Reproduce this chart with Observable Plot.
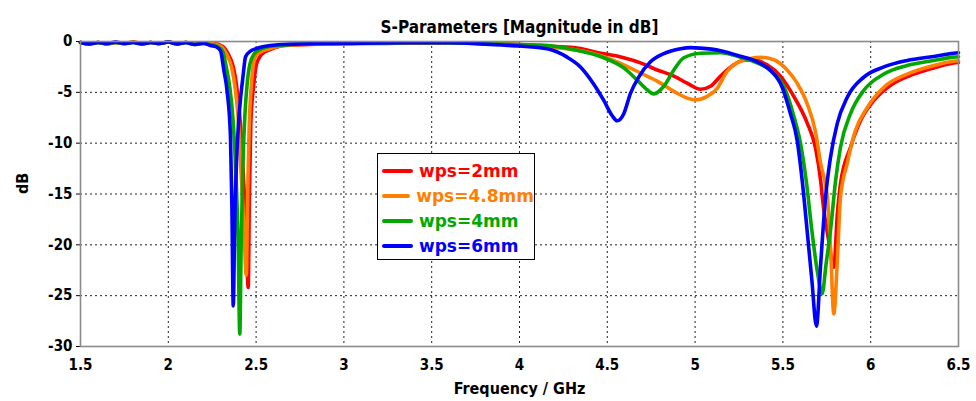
<!DOCTYPE html>
<html>
<head>
<meta charset="utf-8">
<script src="https://cdn.jsdelivr.net/npm/d3@7"></script>
<script src="https://cdn.jsdelivr.net/npm/@observablehq/plot@0.6"></script>
<style>
  html, body { margin: 0; padding: 0; background: #fff; }
  #chart { position: relative; width: 976px; height: 401px; }
  #legend {
    position: absolute; left: 377px; top: 153px; width: 158px; height: 107px;
    background: #fff; border: 1.5px solid #000; box-sizing: border-box;
    font-family: "DejaVu Sans", sans-serif; font-weight: bold; font-size: 17px;
    padding-top: 4px;
  }
  #legend .row { display: flex; align-items: center; height: 25px; }
  #legend .sw { width: 31px; height: 4px; margin-left: 4px; margin-right: 6px; border-radius: 2px; }
</style>
</head>
<body>
<div id="chart"></div>
<script>
// S11 magnitude (dB) versus frequency (GHz) for four values of wps
const seriesNames = ["wps=2mm", "wps=4.8mm", "wps=4mm", "wps=6mm"];
const seriesColors = ["#ff0000", "#ff8000", "#00a800", "#0000ff"];

const xTicks = [1.5, 2, 2.5, 3, 3.5, 4, 4.5, 5, 5.5, 6, 6.5];
const yTicks = [0, -5, -10, -15, -20, -25, -30];

// wps = 2mm
const red_f = [1.5, 1.55, 1.6, 1.65, 1.7, 1.75, 1.8, 1.85, 1.9, 1.95, 2.0, 2.05, 2.1, 2.15, 2.2,
  2.26, 2.31, 2.34, 2.37, 2.39, 2.41, 2.43, 2.445, 2.455, 2.462, 2.47, 2.485, 2.5, 2.515, 2.53, 2.55, 2.58, 2.63, 2.7,
  2.8, 2.9, 3.0, 3.2, 3.4, 3.6, 3.8, 4.0, 4.15, 4.309, 4.45, 4.594, 4.689, 4.784, 4.879, 4.955, 5.031, 5.088, 5.145,
  5.22, 5.27, 5.33, 5.41, 5.486, 5.562, 5.638, 5.686, 5.715, 5.729, 5.76, 5.79, 5.81, 5.828, 5.885, 5.942, 6.018,
  6.113, 6.246, 6.379, 6.473, 6.5];
const red_db = [-0.1, -0.2, -0.1, -0.25, -0.1, -0.2, -0.05, -0.2, -0.1, -0.2, -0.05, -0.2, -0.1, -0.25, -0.2,
  -0.2, -0.5, -1.2, -2.5, -4.5, -8, -14, -20, -24.2, -15, -8, -4.5, -2.4, -1.7, -1.3, -1.0, -0.8, -0.5, -0.35,
  -0.3, -0.25, -0.2, -0.2, -0.15, -0.15, -0.2, -0.3, -0.45, -0.6, -1.1, -1.6, -2.1, -2.8, -3.4, -4.1, -4.7, -4.4, -3.4,
  -2.3, -1.87, -1.8, -2.3, -3.4, -5.4, -8.0, -10.5, -13.7, -16, -19.5, -22.2, -17, -14, -10.4, -7.8, -5.8,
  -4.3, -3.2, -2.5, -2.1, -2.05];

// wps = 4.8mm
const orange_f = [1.5, 1.55, 1.6, 1.65, 1.7, 1.75, 1.8, 1.85, 1.9, 1.95, 2.0, 2.05, 2.1, 2.15, 2.2,
  2.25, 2.3, 2.33, 2.36, 2.38, 2.4, 2.415, 2.43, 2.444, 2.452, 2.46, 2.475, 2.49, 2.51, 2.54, 2.6, 2.66, 2.75,
  2.9, 3.0, 3.2, 3.4, 3.6, 3.8, 4.0, 4.15, 4.309, 4.48, 4.594, 4.689, 4.784, 4.879, 4.955, 5.002, 5.069, 5.126,
  5.18, 5.22, 5.297, 5.372, 5.448, 5.524, 5.581, 5.638, 5.686, 5.715, 5.753, 5.771, 5.79, 5.809, 5.828, 5.866,
  5.913, 5.98, 6.075, 6.208, 6.359, 6.473, 6.5];
const orange_db = [-0.1, -0.2, -0.1, -0.25, -0.1, -0.2, -0.05, -0.2, -0.1, -0.2, -0.05, -0.2, -0.1, -0.25, -0.15,
  -0.2, -0.5, -1.2, -2.5, -4.5, -8, -13, -18, -23.0, -15, -8.8, -3.8, -1.8, -1.2, -0.9, -0.6, -0.4, -0.3,
  -0.25, -0.2, -0.15, -0.15, -0.15, -0.2, -0.3, -0.5, -0.8, -1.5, -2.3, -3.1, -3.9, -4.9, -5.57, -5.75, -5.4, -4.6,
  -3.0, -2.3, -1.74, -1.55, -1.8, -2.8, -4.1, -6.1, -8.9, -12, -15.3, -20.2, -26.8, -21.9, -15.3, -12,
  -8.75, -6.5, -4.5, -3.2, -2.36, -1.94, -1.9];

// wps = 4mm
const green_f = [1.5, 1.55, 1.6, 1.65, 1.7, 1.75, 1.8, 1.85, 1.9, 1.95, 2.0, 2.05, 2.1, 2.15, 2.2,
  2.24, 2.28, 2.31, 2.33, 2.35, 2.37, 2.385, 2.398, 2.407, 2.415, 2.425, 2.437, 2.45, 2.465, 2.49, 2.52, 2.56, 2.62, 2.7,
  2.9, 3.0, 3.2, 3.4, 3.6, 3.8, 4.0, 4.12, 4.309, 4.48, 4.594, 4.67, 4.727, 4.765, 4.822, 4.879, 4.936, 5.031, 5.145,
  5.258, 5.353, 5.44, 5.51, 5.56, 5.6, 5.635, 5.665, 5.695, 5.724, 5.745, 5.771, 5.8, 5.828, 5.885, 5.961,
  6.075, 6.208, 6.359, 6.473, 6.5];
const green_db = [-0.1, -0.25, -0.1, -0.2, -0.1, -0.2, -0.1, -0.25, -0.1, -0.2, -0.05, -0.25, -0.1, -0.3, -0.2,
  -0.3, -0.5, -1.0, -2.5, -4.5, -8, -13, -20, -28.8, -20, -12, -7, -4, -2.2, -1.2, -0.8, -0.55, -0.4, -0.3,
  -0.2, -0.2, -0.15, -0.12, -0.12, -0.2, -0.3, -0.35, -0.8, -1.6, -2.6, -3.8, -4.75, -5.15, -4.4, -2.8, -1.6, -1.15, -1.1,
  -1.55, -2.1, -3.0, -4.6, -7.2, -10, -14, -18.6, -22.5, -24.8, -22, -18.6, -13.7, -10.4, -7.1, -4.8,
  -3.2, -2.36, -1.87, -1.54, -1.5];

// wps = 6mm
const blue_f = [1.5, 1.55, 1.6, 1.65, 1.7, 1.75, 1.8, 1.85, 1.9, 1.95, 2.0, 2.05, 2.1, 2.15, 2.2,
  2.24, 2.27, 2.297, 2.316, 2.335, 2.354, 2.362, 2.37, 2.378, 2.388, 2.4, 2.412, 2.425, 2.44, 2.468, 2.5, 2.525, 2.58, 2.64,
  2.75, 2.9, 3.0, 3.2, 3.4, 3.6, 3.78, 3.9, 4.0, 4.158, 4.271, 4.347, 4.423, 4.48, 4.528, 4.556, 4.594, 4.632, 4.679,
  4.746, 4.822, 4.917, 4.974, 5.031, 5.145, 5.258, 5.353, 5.429, 5.496, 5.543, 5.581, 5.61, 5.638, 5.665, 5.691,
  5.715, 5.743, 5.771, 5.809, 5.866, 5.961, 6.075, 6.208, 6.359, 6.473, 6.5];
const blue_db = [-0.1, -0.25, -0.1, -0.2, -0.05, -0.2, -0.1, -0.25, -0.1, -0.2, -0.05, -0.25, -0.1, -0.3, -0.15,
  -0.4, -0.5, -0.9, -2.8, -4.9, -9.3, -16, -26.0, -18, -12, -8, -5.5, -3.5, -1.5, -0.95, -0.7, -0.56, -0.4, -0.3,
  -0.25, -0.2, -0.18, -0.15, -0.12, -0.12, -0.23, -0.35, -0.45, -0.72, -1.54, -2.5, -4.2, -5.8, -7.3, -7.8, -7.1, -5.1, -3.5,
  -2.0, -1.2, -0.72, -0.6, -0.65, -0.9, -1.45, -2.0, -2.85, -4.5, -7.1, -9.7, -13.7, -18.6, -23.5, -28.0,
  -21.9, -15.3, -11.4, -8.1, -5.5, -3.5, -2.5, -1.87, -1.47, -1.15, -1.1];

const freqs = [red_f, orange_f, green_f, blue_f];
const mags = [red_db, orange_db, green_db, blue_db];

const tables = seriesNames.map((name, i) =>
  freqs[i].map((f, j) => ({name, f, db: mags[i][j]}))
);

const font = "'DejaVu Sans Condensed', 'DejaVu Sans', sans-serif";

const chart = Plot.plot({
  width: 976,
  height: 401,
  marginTop: 41,
  marginLeft: 80,
  marginRight: 18,
  marginBottom: 55,
  style: {fontFamily: font, fontWeight: "bold", fontSize: "15px", color: "#000", background: "#fff"},
  x: {domain: [1.5, 6.5], ticks: xTicks, tickFormat: d => String(d), tickSize: 0, tickPadding: 13, label: null},
  y: {domain: [-30, 0], ticks: yTicks, tickFormat: d => String(d), tickSize: 4, tickPadding: 4, label: null},
  marks: [
    Plot.gridX(xTicks.slice(1, -1), {stroke: "#222", strokeOpacity: 1, strokeDasharray: "2,3"}),
    Plot.gridY(yTicks.slice(1, -1), {stroke: "#222", strokeOpacity: 1, strokeDasharray: "2,3"}),
    ...tables.map((t, i) => Plot.line(t, {
      x: "f", y: "db", stroke: seriesColors[i], strokeWidth: 3.6,
      curve: "monotone-x", strokeLinejoin: "round", strokeLinecap: "round"
    })),
    Plot.frame({stroke: "#8a8a8a", strokeWidth: 1.6}),
    Plot.text(["S-Parameters [Magnitude in dB]"], {
      frameAnchor: "top", dy: -21, fontSize: 17, fontWeight: "bold", fill: "#000"
    }),
    Plot.text(["Frequency / GHz"], {
      frameAnchor: "bottom", dy: 47, fontSize: 16, fontWeight: "bold", fill: "#000"
    }),
    Plot.text(["dB"], {
      frameAnchor: "left", dx: -58, rotate: -90, fontSize: 16, fontWeight: "bold", fill: "#000"
    })
  ]
});

const holder = document.getElementById("chart");
holder.appendChild(chart);

// legend box
const legend = document.createElement("div");
legend.id = "legend";
seriesNames.forEach((name, i) => {
  const row = document.createElement("div");
  row.className = "row";
  const sw = document.createElement("span");
  sw.className = "sw";
  sw.style.background = seriesColors[i];
  const label = document.createElement("span");
  label.textContent = name;
  label.style.color = seriesColors[i];
  row.appendChild(sw);
  row.appendChild(label);
  legend.appendChild(row);
});
holder.appendChild(legend);
</script>
</body>
</html>
